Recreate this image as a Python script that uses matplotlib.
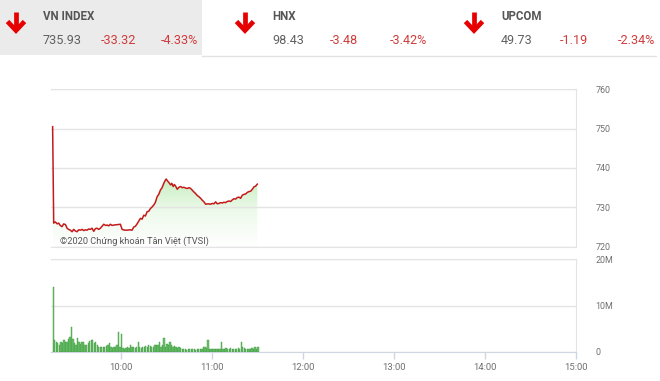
import numpy as np
import matplotlib
matplotlib.use("Agg")
import matplotlib.pyplot as plt
from matplotlib.patches import Rectangle
from matplotlib.colors import LinearSegmentedColormap

plt.rcParams['font.family'] = ['Roboto', 'DejaVu Sans']

# ---------------- data ----------------
index_names = ["VN INDEX", "HNX", "UPCOM"]
index_values = ["735.93", "98.43", "49.73"]
index_changes = ["-33.32", "-3.48", "-1.19"]
index_pcts = ["-4.33%", "-3.42%", "-2.34%"]

# price line: minutes after 9:15, index value
price_minutes = [0, 0.7, 1.8, 3, 4, 5, 6.2, 7.3, 8.5, 9.5, 10.5, 11.7, 12.8, 13.9, 15, 16.1, 17.2,
                 18.3, 19.5, 20.5, 21.6, 22.7, 23.8, 24.9, 26, 27.1, 28.2, 29.3, 30.4, 31.5, 32.6,
                 33.7, 35, 35.9, 37, 38.1, 39.2, 40.3, 42.5, 44.7, 45.8, 47.5, 49.1, 51, 52.4, 53.5,
                 54.6, 55.7, 56.8, 57.9, 59, 60.1, 61.2, 62.3, 63.4, 64.5, 65.6, 66.7, 67.8, 68.9,
                 70, 71.1, 72.2, 73.3, 74.2, 74.9, 75.8, 76.7, 77.8, 78.6, 79.5, 80.3, 81.1, 82.2,
                 83.3, 84.4, 85.5, 86.6, 87.7, 88.8, 90, 91, 92, 93.2, 94.3, 95.4, 96.5, 97.6, 98.7,
                 99.8, 100.9, 102.5, 104.2, 105.3, 106.4, 107.5, 108.6, 109.7, 110.8, 111.9, 113,
                 114.1, 115.2, 116.3, 117.4, 118.5, 119.6, 120.7, 121.8, 122.9, 124, 125.1, 126.2,
                 127.3, 128.4, 129.5, 130.6, 131.7, 132.8, 133.9, 135]
price_values = [750.5, 726.0, 726.3, 725.8, 726.0, 725.4, 725.1, 725.8, 725.6, 724.7, 724.4, 724.2,
                723.8, 724.4, 724.0, 723.8, 724.3, 724.2, 724.4, 724.1, 724.3, 724.2, 724.5, 724.4,
                724.7, 723.9, 724.6, 724.7, 724.4, 724.7, 725.2, 725.7, 725.4, 725.5, 725.3, 725.7,
                725.4, 725.5, 725.6, 725.7, 724.4, 724.2, 724.2, 724.3, 724.2, 725.0, 725.2, 725.8,
                726.5, 727.2, 727.0, 728.0, 727.8, 728.9, 729.0, 729.7, 730.1, 730.6, 731.3, 732.7,
                733.3, 734.4, 735.0, 736.1, 736.8, 737.2, 736.7, 736.3, 735.7, 736.1, 735.3, 735.8,
                735.4, 734.6, 735.1, 735.3, 735.0, 735.1, 734.9, 734.8, 735.0, 734.8, 734.4, 733.9,
                733.5, 733.0, 732.7, 732.3, 731.8, 731.4, 730.8, 730.9, 730.8, 731.0, 730.9, 731.4,
                730.9, 731.0, 731.2, 731.1, 731.3, 731.2, 731.5, 731.6, 731.5, 731.9, 732.2, 732.1,
                732.5, 732.6, 732.3, 733.1, 733.3, 733.4, 733.8, 734.0, 734.1, 734.6, 735.2, 735.4,
                735.9]

# volume per minute from 9:15 (millions of shares)
volume_millions = [13.9, 2.6, 2.0, 1.9, 1.5, 2.2, 1.9, 2.6, 2.0, 2.0, 2.7, 3.2, 5.3, 2.7, 1.9, 1.5,
                   3.0, 2.2, 1.7, 2.2, 2.0, 1.5, 1.5, 1.9, 2.4, 2.6, 2.6, 1.9, 2.0, 1.5, 1.1, 1.0,
                   1.0, 1.0, 1.1, 1.3, 1.5, 1.9, 1.1, 0.7, 1.0, 1.1, 1.5, 4.3, 1.1, 3.9, 0.7, 0.6,
                   0.7, 1.0, 0.7, 1.4, 1.0, 1.1, 0.7, 1.1, 2.1, 1.0, 0.7, 1.1, 1.0, 1.3, 1.1, 1.5,
                   1.3, 1.0, 1.1, 1.5, 1.5, 1.5, 2.0, 1.1, 1.5, 3.0, 1.1, 1.7, 1.5, 2.2, 1.5, 1.1,
                   1.3, 1.1, 0.7, 1.0, 0.7, 0.6, 0.5, 0.6, 0.4, 0.5, 0.6, 0.5, 0.5, 0.6, 0.4, 0.5,
                   0.5, 0.6, 0.5, 1.0, 1.1, 0.8, 2.6, 0.6, 0.6, 0.5, 0.6, 0.5, 0.6, 0.5, 0.6, 2.2,
                   0.5, 0.6, 0.7, 0.5, 0.6, 0.7, 0.5, 0.6, 0.5, 0.6, 0.7, 0.6, 2.2, 1.1, 0.7, 0.6,
                   0.5, 0.6, 0.5, 0.7, 0.6, 1.0, 0.6, 1.0]

price_ticks = [720, 730, 740, 750, 760]
volume_ticks = [0, 10, 20]
volume_tick_labels = ["0", "10M", "20M"]
hour_ticks = [10, 11, 12, 13, 14, 15]
hour_labels = ["10:00", "11:00", "12:00", "13:00", "14:00", "15:00"]
watermark = "©2020 Chứng khoán Tân Việt (TVSI)"

# ---------------- figure ----------------
W, H = 660, 381
fig = plt.figure(figsize=(W / 100, H / 100), dpi=100)
fig.patch.set_facecolor("white")

# overlay for header
hdr = fig.add_axes([0, 0, 1, 1], zorder=0)
hdr.set_xlim(0, W)
hdr.set_ylim(H, 0)
hdr.axis("off")
hdr.add_patch(Rectangle((0, 0), 202, 55, facecolor="#ebebeb", edgecolor="none"))
hdr.plot([202, 656], [55.5, 55.5], color="#e2e2e2", lw=1)

arrow_x = [16, 245, 474]
name_x = [43, 272, 501]
chg_x = [101, 330, 560]
pct_x = [161, 390, 618]
red_arrow = "#e60000"
for i in range(3):
    cx = arrow_x[i]
    hdr.plot([cx, cx], [12, 29], color=red_arrow, lw=3.4, solid_capstyle="butt")
    hdr.plot([cx - 8.5, cx, cx + 8.5], [21.5, 30.5, 21.5], color=red_arrow, lw=3.4,
             solid_joinstyle="miter", solid_capstyle="butt")
    hdr.text(name_x[i], 16.5, index_names[i], fontsize=8.3, fontweight="bold", color="#555555",
             ha="left", va="center")
    hdr.text(name_x[i], 41, index_values[i], fontsize=9.1, color="#606060", ha="left", va="center")
    hdr.text(chg_x[i], 41, index_changes[i], fontsize=9.1, color="#d13b3b", ha="left", va="center")
    hdr.text(pct_x[i], 41, index_pcts[i], fontsize=9.1, color="#d13b3b", ha="left", va="center")

# axes geometry
x_left_px, x_right_px = 51, 575.7
t_left, t_right = 9.232, 15.0
ax_l = x_left_px / W
ax_w = (x_right_px - x_left_px) / W

grid_c = "#e4e4e4"
label_c = "#707070"

# ---------------- price axes ----------------
p_top, p_bot = 89.3, 246.7
axp = fig.add_axes([ax_l, 1 - p_bot / H, ax_w, (p_bot - p_top) / H], zorder=2)
axp.set_facecolor("none")
t_price = 9.25 + np.array(price_minutes) / 60.0
pv = np.array(price_values)

# gradient fill under the line
ymin_fill = 720
poly = axp.fill_between(t_price, pv, ymin_fill, color="none", lw=0)
grad = np.linspace(0, 1, 256).reshape(-1, 1)
cmap = LinearSegmentedColormap.from_list("g", ["#ffffff", "#eefaec", "#c4eebd"])
im = axp.imshow(grad, extent=[t_price[0], t_price[-1], ymin_fill, 738], origin="lower",
                aspect="auto", cmap=cmap, zorder=1)
path = poly.get_paths()[0]
im.set_clip_path(path, transform=axp.transData)

axp.plot(t_price, pv, color="#c41a1a", lw=1.1, zorder=3)
axp.set_xlim(t_left, t_right)
axp.set_ylim(720, 760)
axp.yaxis.tick_right()
axp.set_yticks(price_ticks)
axp.set_yticklabels([str(v) for v in price_ticks])
axp.tick_params(axis="y", length=0, pad=14, labelsize=6.4, labelcolor=label_c)
axp.set_xticks([])
axp.grid(axis="y", color=grid_c, lw=1)
axp.spines["left"].set_visible(False)
for s in ["top", "right", "bottom"]:
    axp.spines[s].set_color(grid_c)
axp.text(t_left + 0.095, 721.4, watermark, fontsize=6.7, color="#555555", ha="left", va="center",
         zorder=4)

# ---------------- volume axes ----------------
v_top, v_bot = 259.3, 351.7
axv = fig.add_axes([ax_l, 1 - v_bot / H, ax_w, (v_bot - v_top) / H], zorder=2)
axv.set_facecolor("none")
t_vol = 9.25 + np.arange(len(volume_millions)) / 60.0
axv.bar(t_vol, volume_millions, width=0.85 / 60.0, color="#6cc06c", edgecolor="#3f9a3f",
        linewidth=0.3, align="edge", zorder=3)
axv.set_xlim(t_left, t_right)
axv.set_ylim(0, 20)
axv.yaxis.tick_right()
axv.set_yticks(volume_ticks)
axv.set_yticklabels(volume_tick_labels)
axv.tick_params(axis="y", length=0, pad=14, labelsize=6.4, labelcolor=label_c)
axv.set_xticks(hour_ticks)
axv.set_xticklabels(hour_labels)
axv.tick_params(axis="x", length=5, width=1, color="#cfd6e0", labelsize=6.8, labelcolor=label_c,
                pad=3)
axv.grid(axis="y", color=grid_c, lw=1)
axv.spines["left"].set_visible(False)
axv.spines["top"].set_color(grid_c)
axv.spines["right"].set_color(grid_c)
axv.spines["bottom"].set_color("#cfd6e0")

fig.savefig("out.png", dpi=100, facecolor="white")
